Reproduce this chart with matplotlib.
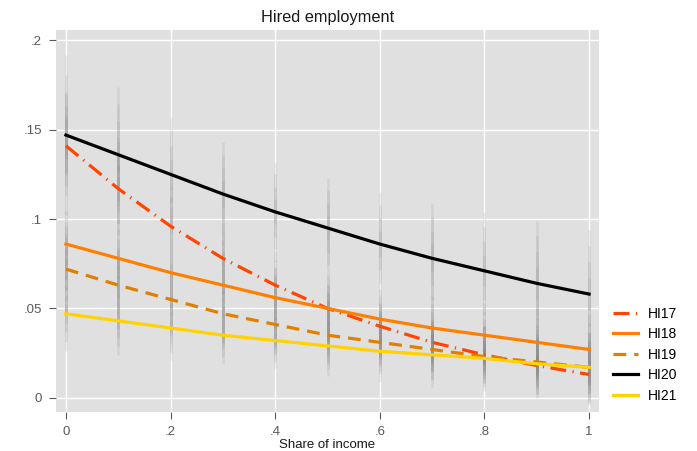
import numpy as np
import matplotlib
matplotlib.use("Agg")
import matplotlib.pyplot as plt

# share of income grid
share = [0.0, 0.1, 0.2, 0.3, 0.4, 0.5, 0.6, 0.7, 0.8, 0.9, 1.0]

# predicted probabilities
hi17 = [0.141, 0.117, 0.096, 0.078, 0.063, 0.050, 0.040, 0.031, 0.024, 0.018, 0.013]
hi18 = [0.086, 0.078, 0.070, 0.063, 0.056, 0.050, 0.044, 0.039, 0.035, 0.031, 0.027]
hi19 = [0.072, 0.063, 0.055, 0.047, 0.041, 0.035, 0.031, 0.027, 0.023, 0.020, 0.017]
hi20 = [0.147, 0.136, 0.125, 0.114, 0.104, 0.095, 0.086, 0.078, 0.071, 0.064, 0.058]
hi21 = [0.047, 0.043, 0.039, 0.035, 0.032, 0.029, 0.026, 0.024, 0.022, 0.019, 0.017]

# half widths of the confidence intervals (gray spikes)
ci17 = [0.030, 0.026, 0.022, 0.020, 0.019, 0.018, 0.017, 0.016, 0.016, 0.016, 0.017]
ci18 = [0.025, 0.022, 0.020, 0.018, 0.017, 0.017, 0.017, 0.018, 0.018, 0.019, 0.020]
ci19 = [0.024, 0.021, 0.019, 0.017, 0.016, 0.016, 0.016, 0.017, 0.017, 0.018, 0.019]
ci20 = [0.045, 0.038, 0.032, 0.029, 0.028, 0.028, 0.029, 0.031, 0.033, 0.035, 0.036]
ci21 = [0.021, 0.019, 0.018, 0.016, 0.016, 0.017, 0.017, 0.018, 0.018, 0.019, 0.020]

labels = ["HI17", "HI18", "HI19", "HI20", "HI21"]
xticks = [0, 0.2, 0.4, 0.6, 0.8, 1.0]
xticklabels = ["0", ".2", ".4", ".6", ".8", "1"]
yticks = [0, 0.05, 0.1, 0.15, 0.2]
yticklabels = ["0", ".05", ".1", ".15", ".2"]

plt.rcParams["font.family"] = ["Liberation Sans", "DejaVu Sans"]

fig = plt.figure(figsize=(6.97, 4.51), dpi=100)
ax = fig.add_axes([56 / 697, 1 - 412 / 451, 543 / 697, 382 / 451])
ax.set_facecolor("#e0e0e0")

series = [hi17, hi18, hi19, hi20, hi21]
cis = [ci17, ci18, ci19, ci20, ci21]
colors = ["#ff4500", "#ff7f00", "#e07f00", "#000000", "#ffd200"]
styles = [(0, (5, 2, 0.4, 2)), "-", (0, (4, 2.5)), "-", "-"]

# gray spikes: stacked segments so they fade toward the ends
for vals, hw in zip(series, cis):
    vals = np.array(vals)
    hw = np.array(hw)
    for frac in [1.0, 0.75, 0.5, 0.25]:
        ax.vlines(share, vals - frac * hw, vals + frac * hw,
                  color="#808080", alpha=0.13, linewidth=2.0, zorder=2)

# lines
for vals, lab, c, ls in zip(series, labels, colors, styles):
    ax.plot(share, vals, color=c, linestyle=ls, linewidth=2.3,
            label=lab, zorder=3)

ax.set_xlim(-0.019, 1.019)
ax.set_ylim(-0.0080, 0.2058)
ax.set_xticks(xticks)
ax.set_xticklabels(xticklabels)
ax.set_yticks(yticks)
ax.set_yticklabels(yticklabels)
ax.grid(color="white", linewidth=1.0, zorder=1)
ax.set_axisbelow(True)
for s in ax.spines.values():
    s.set_visible(False)
ax.tick_params(axis="both", colors="#5a5a5a", labelsize=9.5, length=5,
               width=0.8, pad=5)

ax.set_title("Hired employment", fontsize=11.8, color="#1a1a1a", pad=6)
ax.set_xlabel("Share of income", fontsize=9.5, color="#1a1a1a", labelpad=0.5)

# legend sits outside on the right, lower half
leg = ax.legend(loc="upper left", bbox_to_anchor=(1.016, 0.29), frameon=False,
                fontsize=10, handlelength=1.75, handletextpad=0.75,
                labelspacing=0.47, borderaxespad=0)

fig.savefig("out.png", dpi=100)
